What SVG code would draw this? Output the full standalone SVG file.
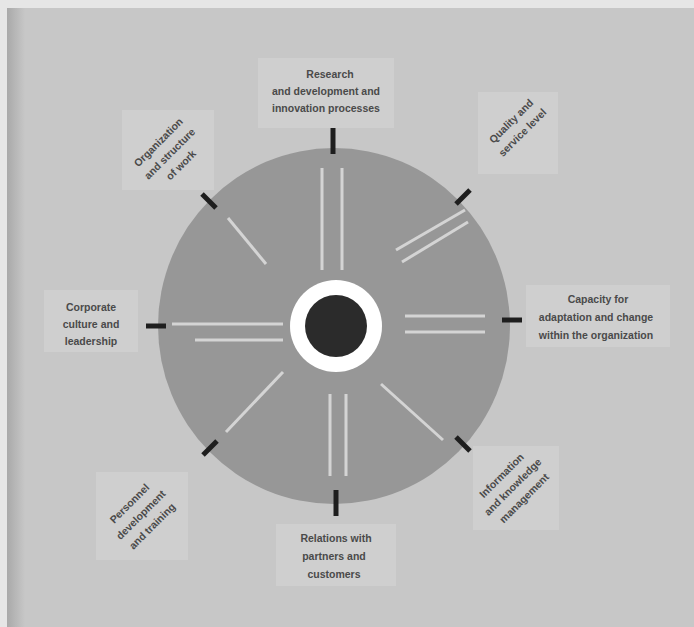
<svg xmlns="http://www.w3.org/2000/svg" width="694" height="627" viewBox="0 0 694 627">
<defs>
<linearGradient id="edge" x1="0" y1="0" x2="1" y2="0">
<stop offset="0" stop-color="#a9a9a9"/>
<stop offset="1" stop-color="#c7c7c7"/>
</linearGradient>
<style>
.lbl{font-family:"Liberation Sans",Arial,sans-serif;font-size:10.5px;fill:#4a4a4a;text-anchor:middle;font-weight:bold}
.box{fill:#cfcfcf}
.spoke{stroke:#d4d4d4;stroke-width:3;fill:none}
.head{stroke:#1e1e1e;stroke-width:5;stroke-linecap:butt}
</style>
</defs>
<rect width="694" height="627" fill="#c7c7c7"/>
<rect x="0" y="0" width="694" height="8" fill="#e6e6e6"/>
<rect x="0" y="0" width="7" height="627" fill="#e6e6e6"/>
<rect x="7" y="8" width="18" height="619" fill="url(#edge)"/>

<g id="wheel">
<ellipse cx="334" cy="326" rx="176" ry="178" fill="#979797"/>
</g>

<g id="n-top">
<rect class="box" x="258" y="58" width="136" height="70"/>
<text class="lbl" x="330" y="78">Research</text>
<text class="lbl" x="326" y="95">and development and</text>
<text class="lbl" x="326" y="112">innovation processes</text>
</g>

<g id="n-upper-right">
<rect class="box" x="478" y="92" width="80" height="82"/>
<g transform="rotate(-45 518 128)">
<text class="lbl" x="518" y="122">Quality and</text>
<text class="lbl" x="518" y="138">service level</text>
</g>
</g>

<g id="n-upper-left">
<rect class="box" x="122" y="110" width="92" height="80"/>
<g transform="rotate(-45 168 152)">
<text class="lbl" x="168" y="142">Organization</text>
<text class="lbl" x="168" y="158">and structure</text>
<text class="lbl" x="168" y="174">of work</text>
</g>
</g>

<g id="n-left">
<rect class="box" x="44" y="290" width="94" height="62"/>
<text class="lbl" x="91" y="311">Corporate</text>
<text class="lbl" x="91" y="328">culture and</text>
<text class="lbl" x="91" y="345">leadership</text>
</g>

<g id="n-right">
<rect class="box" x="526" y="285" width="144" height="62"/>
<text class="lbl" x="598" y="303">Capacity for</text>
<text class="lbl" x="596" y="321">adaptation and change</text>
<text class="lbl" x="596" y="339">within the organization</text>
</g>

<g id="n-lower-left">
<rect class="box" x="96" y="472" width="92" height="88"/>
<g transform="rotate(-45 142 516)">
<text class="lbl" x="142" y="502">Personnel</text>
<text class="lbl" x="142" y="518">development</text>
<text class="lbl" x="142" y="534">and training</text>
</g>
</g>

<g id="n-lower-right">
<rect class="box" x="473" y="446" width="86" height="84"/>
<g transform="rotate(-45 514 488)">
<text class="lbl" x="514" y="474">Information</text>
<text class="lbl" x="514" y="490">and knowledge</text>
<text class="lbl" x="514" y="506">management</text>
</g>
</g>

<g id="n-bottom">
<rect class="box" x="276" y="524" width="120" height="62"/>
<text class="lbl" x="336" y="542">Relations with</text>
<text class="lbl" x="334" y="560">partners and</text>
<text class="lbl" x="334" y="578">customers</text>
</g>

<g id="connectors">
<line class="spoke" x1="322" y1="168" x2="322" y2="270"/>
<line class="spoke" x1="342" y1="168" x2="342" y2="270"/>
<line class="spoke" x1="228" y1="218" x2="266" y2="264"/>
<line class="spoke" x1="396" y1="250" x2="465" y2="210"/>
<line class="spoke" x1="402" y1="262" x2="468" y2="222"/>
<line class="spoke" x1="172" y1="324" x2="283" y2="324"/>
<line class="spoke" x1="195" y1="340" x2="283" y2="340"/>
<line class="spoke" x1="405" y1="316" x2="485" y2="316"/>
<line class="spoke" x1="405" y1="332" x2="485" y2="332"/>
<line class="spoke" x1="283" y1="372" x2="226" y2="432"/>
<line class="spoke" x1="381" y1="384" x2="443" y2="440"/>
<line class="spoke" x1="330" y1="394" x2="330" y2="476"/>
<line class="spoke" x1="346" y1="394" x2="346" y2="476"/>
<line class="head" x1="333" y1="154" x2="333" y2="128"/>
<line class="head" x1="216" y1="208" x2="202" y2="194"/>
<line class="head" x1="456" y1="204" x2="470" y2="190"/>
<line class="head" x1="166" y1="326" x2="146" y2="326"/>
<line class="head" x1="502" y1="320" x2="522" y2="320"/>
<line class="head" x1="217" y1="441" x2="203" y2="455"/>
<line class="head" x1="456" y1="437" x2="470" y2="451"/>
<line class="head" x1="336" y1="490" x2="336" y2="516"/>
</g>

<g id="center">
<circle cx="336" cy="326" r="46" fill="#ffffff"/>
<circle cx="336" cy="326" r="31" fill="#2b2b2b"/>
</g>
</svg>
